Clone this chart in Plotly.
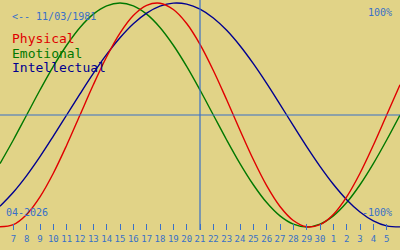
import plotly.graph_objects as go

# Day positions (April 2026 numbering; 31..36 = May 1..6)
days = list(range(6, 37))
tick_vals = list(range(7, 36))
tick_text = [str(d) for d in range(7, 31)] + [str(d) for d in range(1, 6)]

physical = [-0.998, -0.979, -0.888, -0.731, -0.520, -0.270, 0.0, 0.270, 0.520, 0.731,
            0.888, 0.979, 0.998, 0.942, 0.817, 0.631, 0.398, 0.136, -0.136, -0.398,
            -0.631, -0.817, -0.942, -0.998, -0.979, -0.888, -0.731, -0.520, -0.270, 0.0,
            0.270]
emotional = [-0.434, -0.223, 0.0, 0.223, 0.434, 0.623, 0.782, 0.901, 0.975, 1.0,
             0.975, 0.901, 0.782, 0.623, 0.434, 0.223, 0.0, -0.223, -0.434, -0.623,
             -0.782, -0.901, -0.975, -1.0, -0.975, -0.901, -0.782, -0.623, -0.434, -0.223,
             0.0]
intellectual = [-0.815, -0.690, -0.541, -0.372, -0.189, 0.0, 0.189, 0.372, 0.541, 0.690,
                0.815, 0.910, 0.972, 0.999, 0.990, 0.945, 0.866, 0.756, 0.618, 0.458,
                0.282, 0.095, -0.095, -0.282, -0.458, -0.618, -0.756, -0.866, -0.945, -0.990,
                -0.999]

today = 21
birth_label = "<-- 11/03/1981"
month_label = "04-2026"

BG = "#e1d387"
BLUE = "#3870c8"
RED = "#e00000"
GREEN = "#007800"
NAVY = "#000090"
FONT = "DejaVu Sans Mono"

fig = go.Figure()
for vals, col in [(emotional, GREEN), (intellectual, NAVY), (physical, RED)]:
    fig.add_trace(go.Scatter(x=days, y=vals, mode="lines",
                             line=dict(color=col, width=1.4, shape="spline", smoothing=1.0),
                             hoverinfo="skip", showlegend=False))

fig.add_shape(type="line", xref="paper", yref="y", x0=0, x1=1, y0=0, y1=0,
              line=dict(color=BLUE, width=1.2))
fig.add_shape(type="line", xref="x", yref="paper", x0=today, x1=today, y0=0, y1=1,
              line=dict(color=BLUE, width=1.2))

H = 230.0
def py(p):
    return (H - p) / H

ann = [
    (birth_label, 10, 16, BLUE, 10, "left"),
    ("Physical", 10, 38, RED, 13, "left"),
    ("Emotional", 10, 53, GREEN, 13, "left"),
    ("Intellectual", 10, 68, NAVY, 13, "left"),
    ("100%", 394, 12, BLUE, 10, "right"),
    ("-100%", 394, 212, BLUE, 10, "right"),
    (month_label, 4, 212, BLUE, 10, "left"),
]
for txt, x, y, col, sz, anc in ann:
    fig.add_annotation(text=txt, xref="paper", yref="paper", x=x / 400.0, y=py(y),
                       xanchor=anc, yanchor="middle", showarrow=False,
                       font=dict(family=FONT, size=sz, color=col))

fig.update_layout(
    width=400, height=250,
    margin=dict(l=0, r=0, t=0, b=20),
    paper_bgcolor=BG, plot_bgcolor=BG,
    xaxis=dict(range=[6, 36], tickvals=tick_vals, ticktext=tick_text,
               ticks="inside", ticklen=6, tickcolor=BLUE, tickwidth=1.2,
               tickangle=0, ticklabelstandoff=2,
               showgrid=False, zeroline=False, showline=False,
               tickfont=dict(family=FONT, size=9, color=BLUE), fixedrange=True),
    yaxis=dict(range=[-1.027, 1.027], showgrid=False, zeroline=False,
               showticklabels=False, showline=False, fixedrange=True),
    showlegend=False,
)

fig.write_html("out.html")
